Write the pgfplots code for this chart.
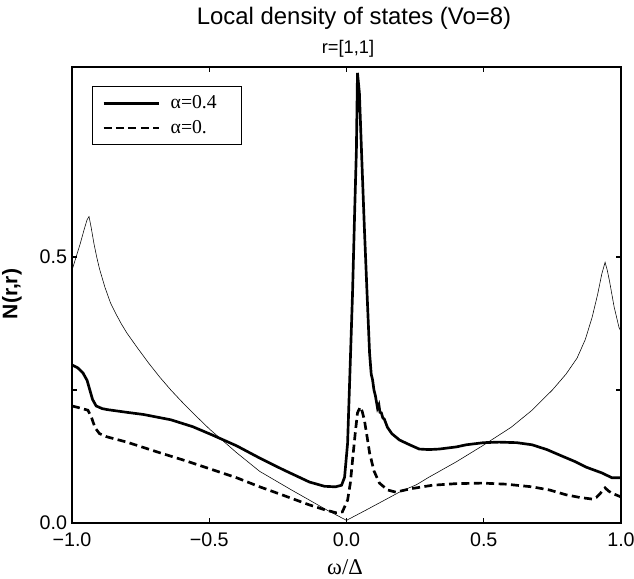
\documentclass[border=0pt]{standalone}
\usepackage{fontspec}
\setmainfont{Liberation Sans}
\newfontfamily\serif{Liberation Serif}
\usepackage{pgfplots}
\pgfplotsset{compat=1.18}

% alpha = 0.4 (thick solid)
\pgfplotstableread{
x y
-1.000 0.297
-0.980 0.292
-0.960 0.282
-0.945 0.268
-0.935 0.250
-0.925 0.232
-0.912 0.220
-0.890 0.215
-0.870 0.213
-0.800 0.208
-0.740 0.204
-0.690 0.199
-0.640 0.194
-0.560 0.181
-0.487 0.165
-0.400 0.145
-0.316 0.122
-0.230 0.100
-0.135 0.077
-0.080 0.069
-0.040 0.068
-0.018 0.071
-0.007 0.086
0.004 0.150
0.013 0.290
0.022 0.432
0.030 0.590
0.036 0.700
0.040 0.846
0.047 0.808
0.056 0.680
0.065 0.556
0.075 0.430
0.084 0.320
0.090 0.280
0.095 0.269
0.100 0.250
0.105 0.240
0.113 0.216
0.118 0.222
0.122 0.208
0.127 0.207
0.132 0.198
0.138 0.195
0.149 0.180
0.165 0.168
0.193 0.156
0.230 0.147
0.265 0.139
0.300 0.138
0.338 0.139
0.400 0.143
0.436 0.147
0.500 0.151
0.556 0.152
0.620 0.151
0.676 0.147
0.730 0.138
0.775 0.128
0.830 0.116
0.873 0.105
0.931 0.094
0.967 0.085
1.000 0.085
}\alphafour

% alpha = 0 (dashed)
\pgfplotstableread{
x y
-1.000 0.220
-0.970 0.216
-0.942 0.212
-0.930 0.200
-0.916 0.179
-0.900 0.168
-0.873 0.162
-0.800 0.152
-0.680 0.132
-0.580 0.116
-0.487 0.100
-0.400 0.085
-0.316 0.068
-0.230 0.052
-0.135 0.034
-0.080 0.025
-0.036 0.019
-0.015 0.021
0.004 0.043
0.014 0.075
0.022 0.118
0.032 0.170
0.040 0.207
0.050 0.218
0.057 0.210
0.065 0.194
0.075 0.162
0.084 0.132
0.100 0.098
0.120 0.075
0.150 0.062
0.180 0.058
0.230 0.064
0.265 0.067
0.313 0.071
0.400 0.074
0.495 0.075
0.580 0.073
0.676 0.068
0.740 0.062
0.800 0.053
0.850 0.048
0.895 0.045
0.910 0.048
0.920 0.053
0.942 0.066
0.955 0.060
0.967 0.056
1.000 0.049
}\alphazero

% bulk DOS (thin)
\pgfplotstableread{
x y
-1.000 0.475
-0.985 0.500
-0.970 0.525
-0.955 0.553
-0.945 0.570
-0.938 0.576
-0.930 0.555
-0.920 0.525
-0.910 0.500
-0.900 0.478
-0.880 0.443
-0.860 0.414
-0.840 0.393
-0.820 0.374
-0.800 0.357
-0.760 0.328
-0.720 0.300
-0.680 0.274
-0.640 0.250
-0.600 0.228
-0.550 0.202
-0.500 0.177
-0.400 0.132
-0.316 0.097
-0.200 0.062
-0.135 0.043
-0.070 0.024
0.000 0.005
0.070 0.024
0.135 0.042
0.200 0.060
0.255 0.072
0.300 0.086
0.400 0.115
0.495 0.145
0.600 0.180
0.676 0.212
0.750 0.250
0.800 0.280
0.840 0.310
0.870 0.345
0.895 0.387
0.915 0.430
0.930 0.468
0.942 0.490
0.950 0.475
0.958 0.455
0.975 0.406
0.993 0.367
1.000 0.360
}\bulk

\begin{document}
\begin{tikzpicture}
\path[use as bounding box] (-18mm,-13.75mm) rectangle (140.5mm,130.75mm);
\begin{axis}[
  at={(0,0)}, anchor=south west,
  scale only axis,
  width=137.25mm, height=114mm,
  xmin=-1, xmax=1, ymin=0, ymax=0.857,
  axis line style={line width=2pt},
  xtick={-1,-0.5,0,0.5,1},
  xticklabels={−1.0,−0.5,0.0,0.5,1.0},
  ytick={0,0.5},
  yticklabels={0.0,0.5},
  minor ytick={0.25},
  tick align=inside,
  major tick length=1.2mm, minor tick length=1.2mm,
  tick style={line width=0.9pt, black},
  tick label style={font=\fontsize{14}{16}\selectfont},
  xticklabel style={yshift=-1.2mm},
  legend style={at={(axis description cs:0.036,0.958)}, anchor=north west,
    draw=black, line width=0.7pt, font=\serif\fontsize{14}{16}\selectfont,
    inner xsep=2.5mm, inner ysep=1.6mm, row sep=0.9mm},
  legend cell align=left,
  legend image code/.code={\draw[#1] (0mm,0mm) -- (13.75mm,0mm);},
]
\addplot[black, line width=1.9pt] table {\alphafour};
\addlegendentry{\hspace*{2mm}α=0.4\hspace*{3mm}}
\addplot[black, line width=1.9pt, dash pattern=on 2mm off 1.1mm] table {\alphazero};
\addlegendentry{\hspace*{2mm}α=0.}
\addplot[black, line width=0.4pt, forget plot] table {\bulk};
\end{axis}
\node at (70.5mm,126.25mm) {\fontsize{17}{20}\selectfont Local density of states (Vo=8)};
\node at (69mm,118.5mm) {\fontsize{13}{15}\selectfont r=[1,1]};
\node[rotate=90] at (-15mm,57.25mm) {\fontsize{15}{17}\selectfont\bfseries N(r,r)};
\node at (68.25mm,-11mm) {\serif\fontsize{16}{18}\selectfont ω/Δ};
\end{tikzpicture}
\end{document}
